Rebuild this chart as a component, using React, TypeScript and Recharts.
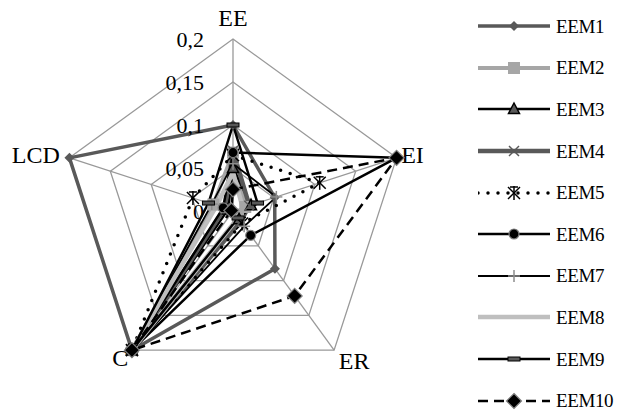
import React from 'react'
import { RadarChart, Radar, PolarGrid, PolarAngleAxis, PolarRadiusAxis, Legend } from 'recharts'

const categories = ['EE', 'EI', 'ER', 'C', 'LCD']
const seriesNames = ['EEM1', 'EEM2', 'EEM3', 'EEM4', 'EEM5', 'EEM6', 'EEM7', 'EEM8', 'EEM9', 'EEM10']
const radiusTicks = [0, 0.05, 0.1, 0.15, 0.2]

const eem1 = [0.1, 0.051, 0.083, 0.2, 0.2]
const eem2 = [0.068, 0.015, 0.01, 0.2, 0.024]
const eem3 = [0.05, 0.022, 0.012, 0.2, 0.006]
const eem4 = [0.07, 0.02, 0.015, 0.2, 0.01]
const eem5 = [0.065, 0.106, 0.018, 0.2, 0.049]
const eem6 = [0.068, 0.2, 0.035, 0.2, 0.012]
const eem7 = [0.055, 0.053, 0.022, 0.2, 0.026]
const eem8 = [0.045, 0.012, 0.01, 0.2, 0.02]
const eem9 = [0.1, 0.03, 0.01, 0.2, 0.03]
const eem10 = [0.025, 0.2, 0.122, 0.2, 0.002]

const seriesValues = [eem1, eem2, eem3, eem4, eem5, eem6, eem7, eem8, eem9, eem10]

const data = categories.map((cat, i) => {
  const row: Record<string, string | number> = { axis: cat }
  seriesNames.forEach((name, s) => {
    row[name] = seriesValues[s][i]
  })
  return row
})

const FONT = '"Liberation Serif", "Times New Roman", Tinos, "DejaVu Serif", serif'

type SeriesStyle = {
  stroke: string
  width: number
  dash?: string
  cap?: 'round' | 'butt'
  marker: string
}

const styles: Record<string, SeriesStyle> = {
  EEM1: { stroke: '#595959', width: 3.5, marker: 'diamondGray' },
  EEM2: { stroke: '#a6a6a6', width: 4, marker: 'square' },
  EEM3: { stroke: '#000', width: 2.5, marker: 'triangle' },
  EEM4: { stroke: '#595959', width: 4.5, marker: 'cross' },
  EEM5: { stroke: '#000', width: 3.5, dash: '0 10', cap: 'round', marker: 'star' },
  EEM6: { stroke: '#000', width: 2.5, marker: 'circle' },
  EEM7: { stroke: '#000', width: 1.8, marker: 'plus' },
  EEM8: { stroke: '#bfbfbf', width: 4.5, marker: 'none' },
  EEM9: { stroke: '#000', width: 2.5, marker: 'dash' },
  EEM10: { stroke: '#000', width: 2.5, dash: '10 6', marker: 'diamondBlack' },
}

const Marker = ({ kind, x, y }: { kind: string; x: number; y: number }) => {
  switch (kind) {
    case 'diamondGray':
      return <polygon points={`${x},${y - 5} ${x + 5},${y} ${x},${y + 5} ${x - 5},${y}`} fill="#595959" />
    case 'diamondBlack':
      return (
        <polygon
          points={`${x},${y - 7.5} ${x + 7.5},${y} ${x},${y + 7.5} ${x - 7.5},${y}`}
          fill="#000"
          stroke="#808080"
          strokeWidth={1.2}
        />
      )
    case 'square':
      return <rect x={x - 6} y={y - 6} width={12} height={12} fill="#a6a6a6" />
    case 'triangle':
      return (
        <polygon
          points={`${x},${y - 6} ${x + 5.5},${y + 4.5} ${x - 5.5},${y + 4.5}`}
          fill="#595959"
          stroke="#000"
          strokeWidth={1.5}
        />
      )
    case 'cross':
      return (
        <g stroke="#595959" strokeWidth={1.5}>
          <line x1={x - 5} y1={y - 5} x2={x + 5} y2={y + 5} />
          <line x1={x - 5} y1={y + 5} x2={x + 5} y2={y - 5} />
        </g>
      )
    case 'star':
      return (
        <g stroke="#000" strokeWidth={1.5}>
          <line x1={x - 6} y1={y - 6} x2={x + 6} y2={y + 6} />
          <line x1={x - 6} y1={y + 6} x2={x + 6} y2={y - 6} />
          <line x1={x} y1={y - 7} x2={x} y2={y + 7} />
          <line x1={x - 4} y1={y - 6} x2={x + 4} y2={y - 6} />
        </g>
      )
    case 'circle':
      return <circle cx={x} cy={y} r={5} fill="#000" stroke="#808080" strokeWidth={1.2} />
    case 'plus':
      return (
        <g stroke="#8c8c8c" strokeWidth={1.5}>
          <line x1={x - 6} y1={y} x2={x + 6} y2={y} />
          <line x1={x} y1={y - 6} x2={x} y2={y + 6} />
        </g>
      )
    case 'dash':
      return <rect x={x - 6} y={y - 2} width={12} height={4} fill="#595959" stroke="#000" strokeWidth={1} />
    default:
      return null
  }
}

const renderDot = (name: string) => (props: any) => (
  <g key={`${name}-${props.index}`}>
    <Marker kind={styles[name].marker} x={props.cx} y={props.cy} />
  </g>
)

// offsets from the tick point (vertex + 8px outward)
const angleLabelOffset: Record<string, { dx: number; dy: number; anchor: 'start' | 'middle' | 'end' }> = {
  EE: { dx: 0, dy: -5, anchor: 'middle' },
  EI: { dx: -3, dy: 8, anchor: 'start' },
  ER: { dx: 0, dy: 12.5, anchor: 'start' },
  C: { dx: 1, dy: 9, anchor: 'end' },
  LCD: { dx: -2, dy: 8, anchor: 'end' },
}

const AngleTick = (props: any) => {
  const { x, y, payload } = props
  const off = angleLabelOffset[payload.value] || { dx: 0, dy: 0, anchor: 'middle' }
  return (
    <text x={x + off.dx} y={y + off.dy} textAnchor={off.anchor} style={{ fontFamily: FONT }} fontSize={24} fill="#000">
      {payload.value}
    </text>
  )
}

const RadiusTick = (props: any) => {
  const { x, y, payload } = props
  return (
    <text x={x - 29} y={y + 8} textAnchor="end" style={{ fontFamily: FONT }} fontSize={22} fill="#000">
      {String(payload.value).replace('.', ',')}
    </text>
  )
}

const LegendContent = () => (
  <div style={{ fontFamily: FONT, fontSize: 19, letterSpacing: -0.4, color: '#000' }}>
    {seriesNames.map((name) => {
      const st = styles[name]
      return (
        <div key={name} style={{ height: 41.6, display: 'flex', alignItems: 'center', whiteSpace: 'nowrap' }}>
          <svg width={78} height={20} style={{ display: 'block', flex: 'none' }}>
            <line
              x1={0}
              x2={72}
              y1={10}
              y2={10}
              stroke={st.stroke}
              strokeWidth={st.width}
              strokeDasharray={st.dash}
              strokeLinecap={st.cap || 'butt'}
            />
            <Marker kind={st.marker} x={36} y={10} />
          </svg>
          <span style={{ lineHeight: 1 }}>{name}</span>
        </div>
      )
    })}
  </div>
)

export default function App() {
  return (
    <div style={{ width: 622, height: 413, position: 'relative', marginTop: -8, marginLeft: -8, fontFamily: FONT }}>
      <RadarChart width={622} height={413} data={data} cx={233} cy={211} outerRadius={172} margin={{ top: 0, right: 0, bottom: 0, left: 0 }}>
        <PolarGrid gridType="polygon" stroke="#999" strokeWidth={1.3} />
        <PolarAngleAxis dataKey="axis" axisLine={false} tickLine={false} tick={AngleTick} />
        <PolarRadiusAxis
          type="number"
          angle={90}
          domain={[0, 0.2]}
          ticks={radiusTicks as any}
          tickCount={5}
          axisLine={false}
          tickLine={false}
          tick={RadiusTick}
        />
        {seriesNames.map((name) => {
          const st = styles[name]
          return (
            <Radar
              key={name}
              name={name}
              dataKey={name}
              stroke={st.stroke}
              strokeWidth={st.width}
              strokeDasharray={st.dash}
              strokeLinecap={st.cap || 'butt'}
              strokeLinejoin="round"
              fill="none"
              fillOpacity={0}
              dot={st.marker === 'none' ? false : renderDot(name)}
              isAnimationActive={false}
            />
          )
        })}
        <Legend
          layout="vertical"
          align="left"
          verticalAlign="top"
          content={LegendContent}
          wrapperStyle={{ position: 'absolute', left: 478, top: 5.5, width: 144 }}
        />
      </RadarChart>
    </div>
  )
}
